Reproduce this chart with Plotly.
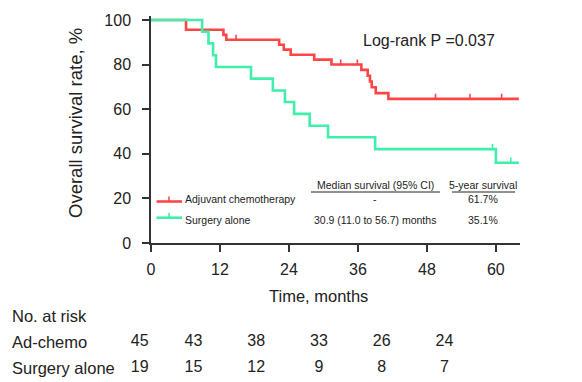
import numpy as np
import plotly.graph_objects as go

# ---------------- data ----------------
chemo_time = [0, 6.1, 12.6, 13.1, 22.3, 23.1, 24.3, 28.4, 31.4, 36.6, 37.7, 38.1, 38.4, 39.1, 41.3, 64.0]
chemo_surv = [100, 95.6, 93.3, 91.1, 88.9, 86.7, 84.4, 82.2, 80.0, 77.6, 75.0, 72.4, 69.8, 67.2, 64.6, 64.6]
chemo_censor = [14.8, 33.0, 35.9, 49.5, 55.5, 61.0]

surg_time = [0, 8.9, 10.0, 10.8, 11.3, 17.4, 21.2, 23.3, 24.9, 27.6, 30.8, 39.0, 60.0, 64.0]
surg_surv = [100, 94.7, 89.5, 84.2, 78.9, 73.7, 68.4, 63.2, 57.9, 52.6, 47.4, 42.1, 36.0, 36.0]
surg_censor = [59.4, 62.6]

x_ticks = [0, 12, 24, 36, 48, 60]
y_ticks = [0, 20, 40, 60, 80, 100]

risk_times = [0, 12, 24, 36, 48, 60]
risk_chemo = [45, 43, 38, 33, 26, 24]
risk_surg = [19, 15, 12, 9, 8, 7]
risk_rows = ["Surgery alone", "Ad-chemo", "No. at risk"]

group_names = ["Adjuvant chemotherapy", "Surgery alone"]
median_txt = ["-", "30.9 (11.0 to 56.7) months"]
fiveyr_txt = ["61.7%", "35.1%"]
logrank_txt = "Log-rank P =0.037"

RED = "#FF4545"
GREEN = "#3FEFAA"
FONT = "Liberation Sans, Arial, Helvetica, sans-serif"
TXT = "#222222"

# the page body adds an 8px offset; the figure fills the rest of the window
OFF = 8
W, H = 582 - OFF, 382 - OFF


def step_val(times, surv, t):
    idx = np.searchsorted(np.asarray(times), t, side="right") - 1
    return np.asarray(surv)[idx]


def px(x):
    return (x - OFF) / W


def py(y):
    return (H - (y - OFF)) / H


def note(x, y, text, size=10.5, xanchor="center", **kw):
    d = dict(x=px(x), y=py(y), xref="paper", yref="paper", text=text, showarrow=False,
             xanchor=xanchor, yanchor="middle", font=dict(family=FONT, size=size, color=TXT))
    d.update(kw)
    return d


fig = go.Figure()

for t, s, c, col in [(chemo_time, chemo_surv, chemo_censor, RED),
                     (surg_time, surg_surv, surg_censor, GREEN)]:
    fig.add_trace(go.Scatter(x=t, y=s, mode="lines", line=dict(color=col, width=2.6, shape="hv"),
                             xaxis="x", yaxis="y", showlegend=False, hoverinfo="skip"))
    cy = step_val(t, s, c)
    fig.add_trace(go.Scatter(x=c, y=cy, mode="markers", marker=dict(size=2, color=col),
                             error_y=dict(type="data", symmetric=False, array=[2.3] * len(c),
                                          arrayminus=[0] * len(c), width=0, thickness=1.6, color=col),
                             xaxis="x", yaxis="y", showlegend=False, hoverinfo="skip"))

# risk table (own hidden axes: times -> columns, rows -> categories)
for row, vals in [("Ad-chemo", risk_chemo), ("Surgery alone", risk_surg)]:
    pos = ["middle right"] + ["middle center"] * (len(vals) - 1)
    fig.add_trace(go.Scatter(x=risk_times, y=[row] * len(vals), text=[str(v) for v in vals],
                             mode="text", textposition=pos, cliponaxis=False,
                             textfont=dict(family=FONT, size=16, color=TXT),
                             xaxis="x2", yaxis="y2", showlegend=False, hoverinfo="skip"))

annotations = []
for row in risk_rows:
    annotations.append(dict(x=px(9.5), y=row, xref="paper", yref="y2", text=row, showarrow=False,
                            xanchor="left", yanchor="middle",
                            font=dict(family=FONT, size=16.5, color=TXT)))

annotations += [
    note(75, 123, "Overall survival rate, %", size=18.5, textangle=-90),
    note(318, 296, "Time, months", size=16.5),
    note(361, 40, logrank_txt, size=16, xanchor="left"),
    note(375, 185, "Median survival (95% CI)"),
    note(483, 185, "5-year survival"),
]

shapes = [
    dict(type="line", xref="paper", yref="paper", x0=px(311), x1=px(440), y0=py(192), y1=py(192),
         line=dict(color=TXT, width=1)),
    dict(type="line", xref="paper", yref="paper", x0=px(452), x1=px(515), y0=py(192), y1=py(192),
         line=dict(color=TXT, width=1)),
]

row_text_y = [199.5, 220]
row_line_y = [201.5, 217.7]
for i, col in enumerate([RED, GREEN]):
    ly = row_line_y[i]
    shapes.append(dict(type="line", xref="paper", yref="paper", x0=px(156.5), x1=px(182), y0=py(ly), y1=py(ly),
                       line=dict(color=col, width=2.6)))
    shapes.append(dict(type="line", xref="paper", yref="paper", x0=px(169), x1=px(169), y0=py(ly), y1=py(ly - 5),
                       line=dict(color=col, width=1.6)))
    annotations.append(note(183, row_text_y[i], group_names[i], xanchor="left"))
    annotations.append(note(375, row_text_y[i], median_txt[i]))
    annotations.append(note(483, row_text_y[i], fiveyr_txt[i]))

axis_common = dict(showgrid=False, zeroline=False, showline=True, linewidth=1.5, linecolor="#333333",
                   ticks="outside", ticklen=7, tickwidth=1.5, tickcolor="#333333", automargin=False,
                   tickfont=dict(family=FONT, size=16, color=TXT))

x2_per_month = 5.229
x2_zero = 130.75 - OFF

fig.update_layout(
    width=W, height=H, margin=dict(l=0, r=0, t=0, b=0, autoexpand=False), autosize=False,
    paper_bgcolor="white", plot_bgcolor="white",
    xaxis=dict(domain=[px(151), px(520)], range=[0, 64.2], tickvals=x_ticks, anchor="y",
               ticklabelstandoff=4, **axis_common),
    yaxis=dict(domain=[py(243), py(15.5)], range=[0, 102], tickvals=y_ticks, anchor="x",
               ticklabelstandoff=8, **axis_common),
    xaxis2=dict(domain=[0, 1], range=[-x2_zero / x2_per_month, (W - x2_zero) / x2_per_month],
                visible=False, anchor="y2", automargin=False),
    yaxis2=dict(domain=[py(381), py(303)], range=[-0.5, 2.5], type="category",
                categoryorder="array", categoryarray=risk_rows, visible=False, anchor="x2",
                automargin=False),
    annotations=annotations, shapes=shapes, showlegend=False,
)

fig.write_html("out.html")
